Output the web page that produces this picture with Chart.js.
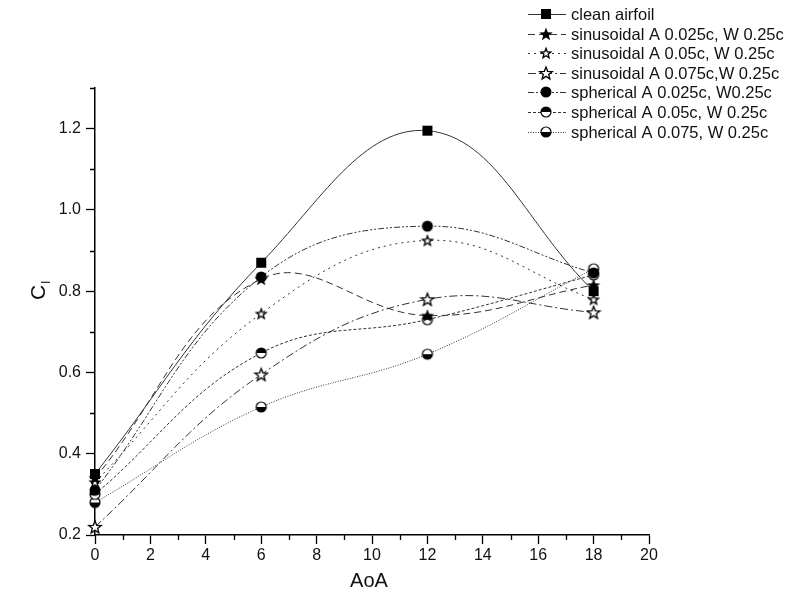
<!DOCTYPE html>
<html><head><meta charset="utf-8">
<script src="https://cdn.jsdelivr.net/npm/chart.js@4/dist/chart.umd.min.js"></script>
<style>html,body{margin:0;padding:0;background:#fff}#wrap{width:800px;height:606px}</style>
</head><body><div id="wrap"><canvas id="c" width="800" height="606"></canvas></div>
<script>
const aoa = [0, 6, 12, 18];
const cleanAirfoil = [0.35, 0.87, 1.195, 0.80];
const sinA025 = [0.34, 0.83, 0.74, 0.815];
const sinA050 = [0.33, 0.745, 0.925, 0.78];
const sinA075 = [0.22, 0.595, 0.78, 0.748];
const sphA025 = [0.31, 0.835, 0.96, 0.845];
const sphA050 = [0.30, 0.648, 0.73, 0.84];
const sphA075 = [0.28, 0.515, 0.645, 0.855];
const seriesNames = [
  'clean airfoil',
  'sinusoidal A 0.025c, W 0.25c',
  'sinusoidal A 0.05c, W 0.25c',
  'sinusoidal A 0.075c,W 0.25c',
  'spherical A 0.025c, W0.25c',
  'spherical A 0.05c, W 0.25c',
  'spherical A 0.075, W 0.25c'
];
const xTicks = [0, 2, 4, 6, 8, 10, 12, 14, 16, 18, 20];
const xMinorTicks = [1, 3, 5, 7, 9, 11, 13, 15, 17, 19];
const yTicks = [0.2, 0.4, 0.6, 0.8, 1.0, 1.2];
const yMinorTicks = [0.3, 0.5, 0.7, 0.9, 1.1, 1.3];
const xTitle = 'AoA';

const FONT = '"Liberation Sans", Arial, sans-serif';

function makeMarker(kind) {
  const s = 16, c = document.createElement('canvas');
  c.width = s; c.height = s;
  const g = c.getContext('2d');
  const cx = s / 2, cy = s / 2;
  g.fillStyle = '#000'; g.strokeStyle = '#000';
  function starPath(R, r) {
    g.beginPath();
    for (let i = 0; i < 10; i++) {
      const rad = i % 2 === 0 ? R : r;
      const a = -Math.PI / 2 + i * Math.PI / 5;
      const px = cx + rad * Math.cos(a), py = cy + 0.6 + rad * Math.sin(a);
      if (i === 0) g.moveTo(px, py); else g.lineTo(px, py);
    }
    g.closePath();
  }
  if (kind === 'square') {
    g.fillRect(cx - 5, cy - 5, 10, 10);
  } else if (kind === 'starFilled') {
    starPath(7, 3); g.fill();
  } else if (kind === 'starBold') {
    starPath(7, 3); g.fill();
    g.fillStyle = '#fff'; starPath(3.2, 1.4); g.fill();
  } else if (kind === 'starOpen') {
    starPath(6.6, 2.8); g.fillStyle = '#fff'; g.fill(); g.lineWidth = 1.3; g.stroke();
  } else if (kind === 'circleFilled') {
    g.beginPath(); g.arc(cx, cy, 5.5, 0, Math.PI * 2); g.fill();
  } else if (kind === 'circleTop' || kind === 'circleBottom') {
    g.beginPath(); g.arc(cx, cy, 5, 0, Math.PI * 2); g.fillStyle = '#fff'; g.fill();
    g.fillStyle = '#000';
    g.beginPath();
    if (kind === 'circleTop') g.arc(cx, cy, 5, Math.PI, 2 * Math.PI);
    else g.arc(cx, cy, 5, 0, Math.PI);
    g.closePath(); g.fill();
    g.lineWidth = 1.2; g.beginPath(); g.arc(cx, cy, 5, 0, Math.PI * 2); g.stroke();
  }
  return c;
}

const styles = [
  { marker: 'square', dash: [] },
  { marker: 'starFilled', dash: [7, 4] },
  { marker: 'starBold', dash: [2, 4] },
  { marker: 'starOpen', dash: [8, 3, 2, 3] },
  { marker: 'circleFilled', dash: [6, 2, 2, 2, 2, 2] },
  { marker: 'circleTop', dash: [3, 2] },
  { marker: 'circleBottom', dash: [1, 1.5] }
];
const allValues = [cleanAirfoil, sinA025, sinA050, sinA075, sphA025, sphA050, sphA075];
const markers = styles.map(s => makeMarker(s.marker));

const datasets = allValues.map((vals, i) => ({
  label: seriesNames[i],
  data: aoa.map((x, k) => ({ x: x, y: vals[k] })),
  borderColor: '#333',
  borderWidth: 1,
  borderDash: styles[i].dash,
  tension: 0.4,
  pointStyle: markers[i],
  pointRadius: 6,
  clip: false,
  fill: false
}));

const extras = {
  id: 'extras',
  afterDraw(chart) {
    const ctx = chart.ctx, xs = chart.scales.x, ys = chart.scales.y;
    const area = chart.chartArea;
    ctx.save();
    ctx.strokeStyle = '#000'; ctx.lineWidth = 1.3;
    ctx.beginPath();
    xMinorTicks.forEach(v => { const px = Math.round(xs.getPixelForValue(v)) + 0.5; ctx.moveTo(px, area.bottom); ctx.lineTo(px, area.bottom + 5); });
    yMinorTicks.forEach(v => { const py = Math.round(ys.getPixelForValue(v)) + 0.5; ctx.moveTo(area.left, py); ctx.lineTo(area.left - 5, py); });
    ctx.stroke();
    // x title
    ctx.fillStyle = '#111';
    ctx.font = '20px ' + FONT;
    ctx.textAlign = 'center'; ctx.textBaseline = 'middle';
    ctx.fillText(xTitle, (area.left + area.right) / 2 - 3, 581);
    // y title C_l
    ctx.save();
    ctx.translate(38, 292);
    ctx.rotate(-Math.PI / 2);
    ctx.textAlign = 'left'; ctx.textBaseline = 'alphabetic';
    ctx.font = '21px ' + FONT;
    ctx.fillText('C', -8, 7);
    const w = ctx.measureText('C').width;
    ctx.font = '13px ' + FONT;
    ctx.fillText('l', -8 + w + 1, 12);
    ctx.restore();
    // legend
    ctx.font = '16.5px ' + FONT;
    ctx.textAlign = 'left'; ctx.textBaseline = 'middle';
    seriesNames.forEach((name, i) => {
      const y = Math.round(14 + i * 19.6);
      ctx.strokeStyle = '#333'; ctx.lineWidth = 1;
      ctx.setLineDash(styles[i].dash);
      ctx.beginPath(); ctx.moveTo(528, y + 0.5); ctx.lineTo(566, y + 0.5); ctx.stroke();
      ctx.setLineDash([]);
      ctx.drawImage(markers[i], 546 - 8, y - 8);
      ctx.fillStyle = '#111';
      ctx.fillText(name, 571, y + 1);
    });
    ctx.restore();
  }
};

new Chart(document.getElementById('c'), {
  type: 'line',
  data: { datasets: datasets },
  options: {
    responsive: false,
    animation: false,
    devicePixelRatio: 1,
    layout: { padding: { top: 88, right: 151, left: 0, bottom: 0 } },
    plugins: { legend: { display: false }, tooltip: { enabled: false } },
    scales: {
      x: {
        type: 'linear', min: 0, max: 20,
        afterBuildTicks: s => { s.ticks = xTicks.map(v => ({ value: v })); },
        afterFit: s => { s.height = 71; },
        ticks: { font: { family: FONT, size: 16 }, color: '#111', padding: 2, maxRotation: 0 },
        grid: { drawOnChartArea: false, tickLength: 9, color: '#000', tickWidth: 1.3 },
        border: { color: '#000', width: 1.5 },
        title: { display: false }
      },
      y: {
        type: 'linear', min: 0.2, max: 1.3,
        afterBuildTicks: s => { s.ticks = yTicks.map(v => ({ value: v })); },
        afterFit: s => { s.width = 95; },
        ticks: { font: { family: FONT, size: 16 }, color: '#111', padding: 5, callback: v => v.toFixed(1) },
        grid: { drawOnChartArea: false, tickLength: 9, color: '#000', tickWidth: 1.3 },
        border: { color: '#000', width: 1.5 },
        title: { display: false }
      }
    }
  },
  plugins: [extras]
});
</script>
</body></html>
